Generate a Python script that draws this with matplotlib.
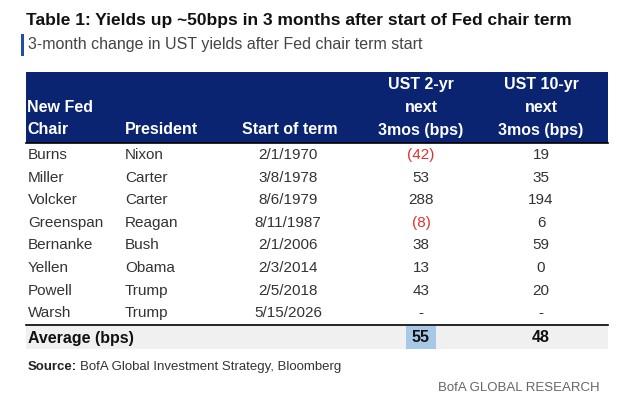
import matplotlib.pyplot as plt
from matplotlib.patches import Rectangle

chairs = ["Burns", "Miller", "Volcker", "Greenspan", "Bernanke", "Yellen", "Powell", "Warsh"]
presidents = ["Nixon", "Carter", "Carter", "Reagan", "Bush", "Obama", "Trump", "Trump"]
starts = ["2/1/1970", "3/8/1978", "8/6/1979", "8/11/1987", "2/1/2006", "2/3/2014", "2/5/2018", "5/15/2026"]
ust2 = [-42, 53, 288, -8, 38, 13, 43, None]
ust10 = [19, 35, 194, 6, 59, 0, 20, None]
avg2, avg10 = 55, 48

W, H = 636, 408
fig = plt.figure(figsize=(W / 100, H / 100), dpi=100)
plt.rcParams['font.family'] = ['Liberation Sans', 'DejaVu Sans']
NAVY = "#0a2472"
TXT = "#333333"


def fy(y):
    return 1 - y / H


def fx(x):
    return x / W


def txt(x, y, s, **kw):
    kw.setdefault("color", TXT)
    kw.setdefault("fontsize", 11)
    fig.text(fx(x), fy(y), s, va="center", **kw)


def rect(x, y, w, h, color):
    fig.patches.append(Rectangle((fx(x), fy(y + h)), w / W, h / H, transform=fig.transFigure,
                                 color=color, lw=0))


def fmt(v):
    if v is None:
        return "-"
    return f"({-v})" if v < 0 else str(v)


txt(26, 20, "Table 1: Yields up ~50bps in 3 months after start of Fed chair term",
    fontsize=12.5, weight="bold", color="#111111")
rect(21, 34, 3, 22, "#1f4ea8")
txt(28, 45, "3-month change in UST yields after Fed chair term start", fontsize=11.5, color="#444444")

# header
rect(26, 72, 582, 71, NAVY)
hd = dict(color="white", weight="bold", fontsize=11.5)
txt(27, 108, "New Fed", **hd)
txt(27, 130, "Chair", **hd)
txt(125, 130, "President", **hd)
txt(290, 130, "Start of term", ha="center", **hd)
for cx, name in [(421, "UST 2-yr"), (541, "UST 10-yr")]:
    txt(cx, 85, name, ha="center", **hd)
    txt(cx, 108, "next", ha="center", **hd)
    txt(cx, 130, "3mos (bps)", ha="center", **hd)
fig.lines.append(plt.Line2D([fx(26), fx(608)], [fy(143)] * 2, color="black", lw=1.2,
                            transform=fig.transFigure))

for i in range(len(chairs)):
    y = 155 + i * 22.6
    txt(28, y, chairs[i])
    txt(125, y, presidents[i])
    txt(288, y, starts[i], ha="center")
    c2 = "#e03030" if ust2[i] is not None and ust2[i] < 0 else TXT
    txt(421, y, fmt(ust2[i]), ha="center", color=c2)
    txt(541, y, fmt(ust10[i]), ha="center")

fig.lines.append(plt.Line2D([fx(26), fx(608)], [fy(325)] * 2, color="black", lw=1.2,
                            transform=fig.transFigure))
rect(26, 326, 582, 23, "#f0f0f0")
rect(406, 326, 30, 23, "#a8c8e8")
txt(28, 338, "Average (bps)", weight="bold", color="#111111", fontsize=11.5)
txt(421, 338, str(avg2), ha="center", weight="bold", color="#111111", fontsize=11.5)
txt(541, 338, str(avg10), ha="center", weight="bold", color="#111111", fontsize=11.5)

fig.text(fx(28), fy(367), "Source:", weight="bold", fontsize=9.5, color="#222222", va="center")
txt(80, 367, "BofA Global Investment Strategy, Bloomberg", fontsize=9.5)
txt(600, 388, "BofA GLOBAL RESEARCH", ha="right", fontsize=9.5, color="#666666")

fig.savefig("out.png", dpi=100, facecolor="white")
